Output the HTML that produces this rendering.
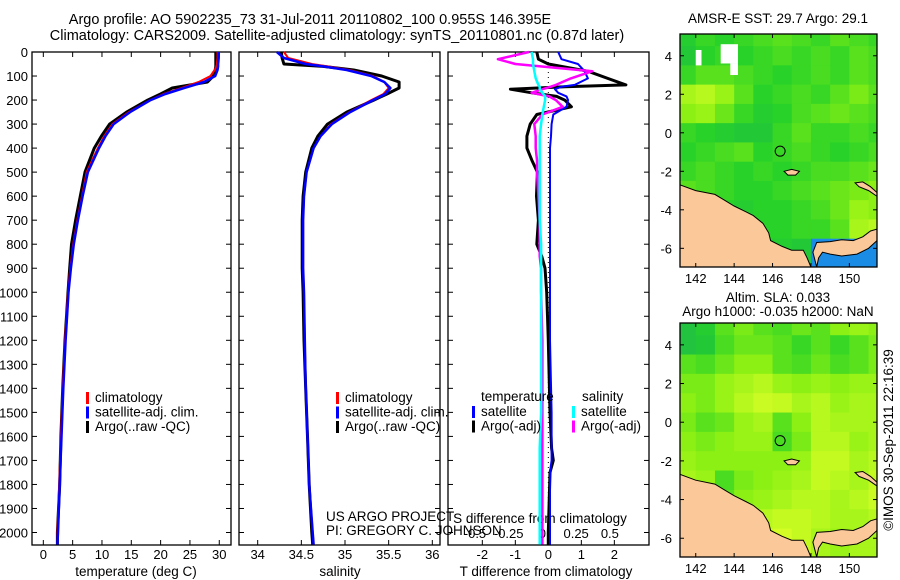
<!DOCTYPE html>
<html><head><meta charset="utf-8"><style>
html,body{margin:0;padding:0;background:#fff;}
svg{display:block;font-family:"Liberation Sans",sans-serif;}
text{font-size:13.5px;fill:#000;}
text.tk{font-size:13px;}
</style></head><body>
<svg id="c" width="900" height="580" viewBox="0 0 900 580">
<text x="310" y="24" text-anchor="middle" style="font-size:14.5px">Argo profile: AO 5902235_73 31-Jul-2011 20110802_100 0.955S 146.395E</text>
<text x="337" y="40" text-anchor="middle" style="font-size:14.5px">Climatology: CARS2009. Satellite-adjusted climatology: synTS_20110801.nc (0.87d later)</text>
<text x="778" y="23" text-anchor="middle">AMSR-E SST: 29.7 Argo: 29.1</text>
<text x="778" y="302" text-anchor="middle">Altim. SLA: 0.033</text>
<text x="778" y="316" text-anchor="middle">Argo h1000: -0.035 h2000: NaN</text>
<text transform="translate(893,440) rotate(-90)" text-anchor="middle">©IMOS 30-Sep-2011 22:16:39</text>
</svg>
<script>
// ---------- data ----------
const depths   = [0,25,50,60,75,100,125,150,175,200,250,300,350,400,500,600,700,800,900,1000,1200,1400,1600,1800,2000,2050];
const tempClim = [29.7,29.7,29.6,29.5,29.2,28.5,26.5,23.6,20.5,18.2,14.6,11.8,10.4,9.3,7.4,6.6,5.8,5.1,4.6,4.2,3.7,3.3,3.0,2.7,2.4,2.4];
const tempSat  = [29.9,29.9,29.8,29.8,29.7,29.3,27.4,24.0,20.8,18.3,14.8,12.0,10.6,9.5,7.6,6.7,5.9,5.2,4.7,4.3,3.8,3.4,3.1,2.8,2.5,2.4];
const tempArgo = [29.4,29.4,29.4,29.4,29.3,29.0,28.0,22.0,20.0,17.8,14.2,11.3,9.9,8.7,7.1,6.3,5.5,4.8,4.5,4.2,3.7,3.3,3.0,2.8,2.4,2.4];
const salClim  = [34.30,34.35,34.62,34.80,35.05,35.32,35.45,35.50,35.44,35.30,35.05,34.84,34.72,34.64,34.56,34.53,34.52,34.52,34.52,34.53,34.54,34.55,34.57,34.59,34.63,34.64];
const salSat   = [34.22,34.30,34.55,34.75,35.02,35.30,35.45,35.52,35.46,35.32,35.06,34.85,34.72,34.64,34.56,34.53,34.52,34.52,34.52,34.53,34.54,34.55,34.57,34.59,34.63,34.64];
const salArgo  = [34.27,34.28,34.30,34.75,35.10,35.42,35.62,35.62,35.48,35.33,35.02,34.80,34.69,34.62,34.55,34.52,34.51,34.51,34.51,34.52,34.53,34.55,34.57,34.59,34.62,34.63];
const dDepths  = [0,30,50,80,110,137,145,155,170,185,200,228,260,300,350,400,450,500,600,700,800,850,900,1000,1200,1500,1650,1700,1750,2000,2050];
const tDiffSat = [0.3,0.4,0.9,1.1,1.2,0.8,0.4,0.2,0.3,0.55,0.6,0.55,0.15,0.1,0.08,0.05,0.05,0.05,0.05,0.05,0.05,0.05,0.05,0.05,0.05,0.1,0.1,0.1,0.05,0.05,0.05];
const tDiffArgo= [-0.35,-0.3,0.0,1.2,1.8,2.35,0.5,-1.15,-0.5,0.25,0.5,0.7,-0.35,-0.55,-0.65,-0.65,-0.5,-0.33,-0.36,-0.3,-0.35,-0.2,-0.1,-0.05,0.0,0.05,0.1,0.15,0.05,0.0,0.0];
const sDiffSat = [-0.08,-0.07,-0.07,-0.06,-0.05,-0.03,-0.02,-0.02,0.0,0.02,0.02,0.01,0.0,-0.01,-0.02,-0.02,-0.02,-0.02,-0.02,-0.02,-0.01,-0.01,-0.01,-0.01,-0.01,-0.01,-0.02,-0.02,-0.02,-0.02,-0.02];
const sDiffArgo= [-0.1,-0.33,-0.2,0.37,0.21,0.1,0.06,0.0,-0.08,0.05,0.1,0.15,0.0,-0.06,-0.05,-0.05,-0.04,-0.04,-0.03,-0.02,-0.02,-0.02,-0.01,-0.01,0.0,0.0,0.0,0.0,0.0,0.0,0.0];
const depthTicks = [0,100,200,300,400,500,600,700,800,900,1000,1100,1200,1300,1400,1500,1600,1700,1800,1900,2000];
const tempTicks = [0,5,10,15,20,25,30];
const salTicks = [34,34.5,35,35.5,36];
const tdTicks = [-2,-1,0,1,2];
const sdTicks = [-0.5,-0.25,0,0.25,0.5];
const lonTicks = [142,144,146,148,150];
const latTicks = [4,2,0,-2,-4,-6];
const sstGrid = [
[0.35,0.45,0.40,0.45,0.50,0.55,0.50,0.45,0.55,0.50,0.45],
[0.30,0.40,0.45,0.40,0.45,0.50,0.45,0.50,0.45,0.55,0.50],
[0.45,0.55,0.55,0.50,0.45,0.40,0.45,0.50,0.45,0.55,0.50],
[0.80,0.85,0.75,0.55,0.40,0.45,0.50,0.45,0.55,0.65,0.55],
[0.70,0.75,0.60,0.45,0.35,0.40,0.50,0.55,0.60,0.55,0.50],
[0.45,0.40,0.35,0.30,0.30,0.45,0.55,0.45,0.45,0.50,0.45],
[0.40,0.45,0.50,0.55,0.40,0.45,0.50,0.45,0.40,0.45,0.50],
[0.45,0.50,0.45,0.40,0.45,0.40,0.45,0.50,0.50,0.55,0.60],
[0.55,0.50,0.45,0.40,0.40,0.45,0.50,0.55,0.60,0.65,0.70],
[0.45,0.45,0.40,0.35,0.40,0.40,0.45,0.50,0.60,0.75,0.70],
[0.45,0.45,0.40,0.40,0.40,0.40,0.45,0.45,0.55,0.80,0.85],
[0.40,0.40,0.40,0.40,0.35,0.35,0.30,-1,-1,-1,-1],
[0.40,0.40,0.40,0.40,0.35,0.35,0.30,-1,-1,-1,-1]];
const slaGrid = [
[0.25,0.35,0.55,0.65,0.55,0.50,0.60,0.55,0.70,0.75,0.70],
[0.25,0.30,0.50,0.60,0.60,0.55,0.45,0.55,0.45,0.55,0.65],
[0.55,0.50,0.60,0.70,0.70,0.55,0.50,0.60,0.50,0.55,0.65],
[0.65,0.65,0.75,0.80,0.85,0.75,0.70,0.75,0.70,0.75,0.75],
[0.70,0.65,0.75,0.85,0.92,0.90,0.80,0.85,0.75,0.80,0.80],
[0.65,0.55,0.60,0.75,0.80,0.55,0.70,0.85,0.80,0.80,0.80],
[0.70,0.65,0.70,0.75,0.75,0.50,0.65,0.85,0.85,0.75,0.80],
[0.75,0.70,0.70,0.70,0.70,0.70,0.75,0.90,0.90,0.80,0.85],
[0.80,0.75,0.50,0.65,0.70,0.75,0.80,0.90,0.85,0.80,0.90],
[0.80,0.75,0.55,0.70,0.75,0.80,0.85,0.85,0.80,0.85,0.92],
[0.80,0.80,0.75,0.80,0.85,0.90,0.90,0.85,0.80,0.80,0.85],
[0.80,0.80,0.80,0.85,0.90,0.95,0.90,0.80,0.75,0.80,0.80],
[0.80,0.80,0.80,0.85,0.90,0.95,0.90,0.80,0.75,0.80,0.80]];
const floatLon = 146.395, floatLat = -0.955;

const NS='http://www.w3.org/2000/svg';
const svg=document.getElementById('c');
function el(tag,attrs,parent){const e=document.createElementNS(NS,tag);for(const k in attrs)e.setAttribute(k,attrs[k]);(parent||svg).appendChild(e);return e;}
function txt(x,y,s,anchor,parent){const t=el('text',{x:x,y:y,'text-anchor':anchor||'start'},parent);t.textContent=s;return t;}
const Y0=52,Y1=545,DMAX=2052;
const yD=d=>Y0+d/DMAX*(Y1-Y0);
function lin(d0,d1,r0,r1){return v=>r0+(v-d0)/(d1-d0)*(r1-r0);}
const P1={x0:32,x1:231}, P2={x0:239,x1:440}, P3={x0:448,x1:649};
const xT=lin(-1.93,32,P1.x0,P1.x1);
const xS=lin(33.786,36.088,P2.x0,P2.x1);
const xTD=lin(-3.04,3.05,P3.x0,P3.x1);
const xSD=lin(-0.7,0.79,P3.x0,P3.x1);

function line(xs,ys,xf,color,w,name){
  const pts=xs.map((v,i)=>xf(v).toFixed(1)+','+yD(ys[i]).toFixed(1)).join(' ');
  const p=el('polyline',{points:pts,fill:'none',stroke:color,'stroke-width':w,'stroke-linejoin':'round'});
  
  
}
function frame(P,name){
  const r=el('rect',{x:P.x0,y:Y0,width:P.x1-P.x0,height:Y1-Y0,fill:'none',stroke:'#000','stroke-width':1.3});
  
  
  depthTicks.forEach(d=>{el('line',{x1:P.x0,x2:P.x0+5,y1:yD(d),y2:yD(d),stroke:'#000'});el('line',{x1:P.x1-5,x2:P.x1,y1:yD(d),y2:yD(d),stroke:'#000'});});
}
function xticks(vals,xf,yLab,fmt,P,name){
  vals.forEach(v=>{const x=xf(v);
    el('line',{x1:x,x2:x,y1:Y0,y2:Y0+5,stroke:'#000'});
    el('line',{x1:x,x2:x,y1:Y1-5,y2:Y1,stroke:'#000'});
    const t=txt(x,yLab,fmt?fmt(v):String(v),'middle');
    t.setAttribute('class','tk');
    
    
  });
}
frame(P1,'temperature-panel-frame');
depthTicks.forEach(d=>{const t=txt(28,yD(d)+5,String(d),'end');
  t.setAttribute('class','tk');
  
  });
xticks(tempTicks,xT,559,null,P1,'temperature-tick-label');
let t1=txt(136,576,'temperature (deg C)','middle');

line(tempArgo,depths,xT,'#000',3,'temperature-argo-line');
line(tempClim,depths,xT,'#f00',2,'temperature-climatology-line');
line(tempSat,depths,xT,'#00f',2.5,'temperature-satellite-line');
frame(P2,'salinity-panel-frame');
xticks(salTicks,xS,559,null,P2,'salinity-tick-label');
let t2=txt(340,576,'salinity','middle');

line(salArgo,depths,xS,'#000',3,'salinity-argo-line');
line(salClim,depths,xS,'#f00',2,'salinity-climatology-line');
line(salSat,depths,xS,'#00f',2.5,'salinity-satellite-line');
function legend(x,y,items,prefix){
  items.forEach((it,i)=>{
    const b=el('rect',{x:x,y:y+i*14.5-10,width:3,height:12,fill:it[1]});
    
    
    const t=txt(x+9,y+i*14.5,it[0]);
    
    
  });
}
const legItems=[['climatology','#f00'],['satellite-adj. clim.','#00f'],['Argo(..raw -QC)','#000']];
legend(86,402,legItems,'temperature');
legend(336,402,legItems,'salinity');
let u1=txt(326,521,'US ARGO PROJECT');
frame(P3,'difference-panel-frame');
el('line',{x1:xTD(0),x2:xTD(0),y1:Y0,y2:Y1,stroke:'#000','stroke-dasharray':'1,4'});
xticks(tdTicks,xTD,559,null,P3,'t-difference-tick-label');
sdTicks.forEach(v=>{const t=txt(xSD(v),538,String(v),'middle');
  t.setAttribute('class','tk');
  });
let t3=txt(546,576,'T difference from climatology','middle');

let t4=txt(540,523,'S difference from climatology','middle');

let u2=txt(326,535,'PI: GREGORY C. JOHNSON');
line(tDiffArgo,dDepths,xTD,'#000',3,'t-diff-argo-line');
line(tDiffSat,dDepths,xTD,'#00f',2,'t-diff-satellite-line');
line(sDiffArgo,dDepths,xSD,'#f0f',2.5,'s-diff-argo-line');
line(sDiffSat,dDepths,xSD,'#0ff',2.5,'s-diff-satellite-line');
let lt=txt(481,401,'temperature');
let ls=txt(582,401,'salinity');
legend(472,416,[['satellite','#00f'],['Argo(-adj)','#000']],'t-diff');
legend(572,416,[['satellite','#0ff'],['Argo(-adj)','#f0f']],'s-diff');
const stops=[[0,[20,170,100]],[0.4,[40,210,40]],[0.7,[140,240,20]],[1,[225,255,40]]];
function col(v){
  if(v<0)return '#1a8ce6';
  for(let i=1;i<stops.length;i++){if(v<=stops[i][0]){const a=stops[i-1],b=stops[i],f=(v-a[0])/(b[0]-a[0]);
    return 'rgb('+a[1].map((c,k)=>Math.round(c+(b[1][k]-c)*f)).join(',')+')';}}
  return 'rgb(225,255,40)';
}
const land1=[[141.18,-2.7],[142,-3.0],[143,-3.2],[143.5,-3.5],[144,-3.8],[144.6,-4.1],[145,-4.3],[145.5,-4.7],[145.8,-5.2],[145.9,-5.6],[146.5,-5.9],[147,-6.1],[147.6,-6.1],[147.8,-6.5],[148.0,-6.97],[141.18,-6.97]];
const land2=[[148.3,-6.97],[148.1,-6.2],[148.3,-5.7],[149,-5.65],[149.6,-5.55],[150.2,-5.6],[150.7,-5.4],[151.1,-5.1],[151.44,-5.0],[151.44,-5.6],[151,-6.0],[150.4,-6.3],[149.6,-6.4],[149.0,-6.3],[148.6,-6.2],[148.4,-6.5]];
const manus=[[146.6,-2.0],[147.0,-1.9],[147.4,-2.0],[147.2,-2.2],[146.8,-2.2]];
const newIreland=[[150.3,-2.6],[150.7,-2.55],[151.1,-2.8],[151.44,-3.1],[151.44,-3.3],[151,-3.0],[150.5,-2.8]];
function drawMap(top,bot,grid,name,white){
  const X0=680,X1=877;
  const fx=lin(141.18,151.44,X0,X1), fy=lin(5.13,-6.97,top,bot);
  const g=el('g',{});
  
  
  const cp=el('clipPath',{id:name+'-clip'},g);
  el('rect',{x:X0,y:top,width:X1-X0,height:bot-top},cp);
  const inner=el('g',{'clip-path':'url(#'+name+'-clip)'},g);
  grid.forEach((row,r)=>row.forEach((v,c)=>{
    const lon=141+c, lat=5-r;
    const cell=el('rect',{x:fx(lon),y:fy(lat+0.5),width:fx(lon+1)-fx(lon)+0.5,height:fy(lat-0.5)-fy(lat+0.5)+0.5,fill:col(v)},inner);
    
    
  }));
  if(white){white.forEach(w=>el('rect',{x:fx(w[0]),y:fy(w[1]),width:fx(w[2])-fx(w[0]),height:fy(w[3])-fy(w[1]),fill:'#fff'},inner));}
  [land1,land2,manus,newIreland].forEach(poly=>{
    const p=el('polygon',{points:poly.map(q=>fx(q[0]).toFixed(1)+','+fy(q[1]).toFixed(1)).join(' '),fill:'#fbc999',stroke:'#000','stroke-width':1},inner);
    
    
  });
  const circ=el('circle',{cx:fx(floatLon),cy:fy(floatLat),r:5,fill:'none',stroke:'#000','stroke-width':1},g);
  
  
  el('rect',{x:X0,y:top,width:X1-X0,height:bot-top,fill:'none',stroke:'#000','stroke-width':1.3},g);
  lonTicks.forEach(v=>{const x=fx(v);
    el('line',{x1:x,x2:x,y1:top,y2:top+4,stroke:'#000'},g);el('line',{x1:x,x2:x,y1:bot-4,y2:bot,stroke:'#000'},g);
    const t=txt(x,bot+16,String(v),'middle',g);t.setAttribute('class','tk');});
  latTicks.forEach(v=>{const y=fy(v);
    el('line',{x1:X0,x2:X0+4,y1:y,y2:y,stroke:'#000'},g);el('line',{x1:X1-4,x2:X1,y1:y,y2:y,stroke:'#000'},g);
    const t=txt(672,y+5,String(v),'end',g);t.setAttribute('class','tk');});
}
drawMap(34,267,sstGrid,'sst-map',[[142.0,4.3,142.3,3.5],[143.3,4.6,144.2,3.6],[143.8,3.6,144.2,3.0]]);
drawMap(323,557,slaGrid,'sla-map',null);
</script>
</body></html>
